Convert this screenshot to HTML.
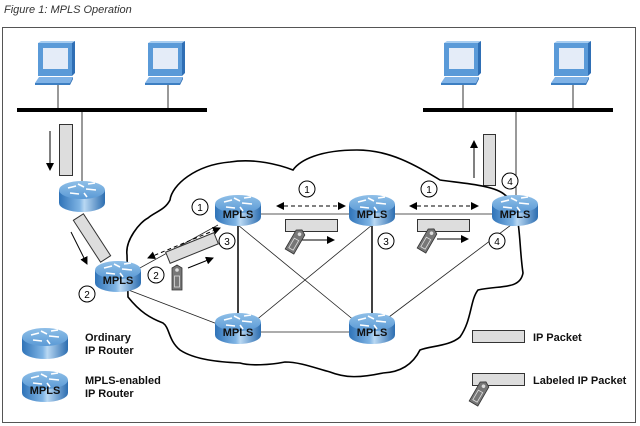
<!DOCTYPE html>
<html><head><meta charset="utf-8"><style>
body{margin:0;background:#fff}
svg{display:block}
text{font-family:"Liberation Sans",Arial,sans-serif}
.m{font-weight:bold;font-size:11px;fill:#111;text-anchor:middle}
.n{font-size:10px;fill:#000;text-anchor:middle}
.l{font-weight:bold;font-size:11px;fill:#111}
</style></head><body>
<svg width="640" height="426" viewBox="0 0 640 426" xmlns="http://www.w3.org/2000/svg">
<defs>
<linearGradient id="body" x1="0" x2="1" y1="0" y2="0">
<stop offset="0" stop-color="#2f73b8"/><stop offset="0.45" stop-color="#7fb4e4"/><stop offset="0.55" stop-color="#b9d8f3"/><stop offset="1" stop-color="#2c6db0"/>
</linearGradient>
<linearGradient id="top" x1="0" x2="0" y1="0" y2="1">
<stop offset="0" stop-color="#8fbfe8"/><stop offset="1" stop-color="#5b9ad6"/>
</linearGradient>
<g id="rt">
<path d="M-23,0 L-23,13 A23,9 0 0 0 23,13 L23,0 Z" fill="url(#body)"/>
<ellipse cx="0" cy="0" rx="23" ry="9" fill="url(#top)"/>
<path d="M-14,-2 l8,-2 M-4,-6 l6,3 M4,-1 l10,1 M-12,3 l9,1 M2,3 l3,4 M6,-6 l7,-1" stroke="#fff" stroke-width="1.6" fill="none"/>
</g>
<g id="mp"><use href="#rt"/><text class="m" x="0" y="14">MPLS</text></g>
<g id="tag">
<path d="M-5,-11 L0,-14 L5,-11 L5,11 L-5,11 Z" fill="#777" stroke="#333" stroke-width="0.8"/>
<circle cx="0" cy="-9" r="1.8" fill="#ddd"/>
<rect x="-2.5" y="-3" width="5" height="11" fill="none" stroke="#ddd" stroke-width="0.8"/>
</g>
<marker id="ah" markerWidth="8" markerHeight="8" refX="7" refY="4" orient="auto" markerUnits="userSpaceOnUse"><path d="M0,0 L8,4 L0,8 Z" fill="#000"/></marker>
<marker id="as" markerWidth="8" markerHeight="8" refX="1" refY="4" orient="auto" markerUnits="userSpaceOnUse"><path d="M8,0 L0,4 L8,8 Z" fill="#000"/></marker>
<g id="pc">
<path d="M3,0 L6,-2 L40,-2 L37,0 Z" fill="#a8cdf0"/>
<path d="M37,0 L40,-2 L40,30 L37,33 Z" fill="#2f6fb5"/>
<rect x="3" y="0" width="34" height="33" fill="#5a9ad8"/>
<rect x="8" y="5" width="25" height="21" fill="#e4ecf8"/>
<path d="M4,34 L38,34 L35,40 L0,40 Z" fill="#7fb2e6"/>
<path d="M0,40 L35,40 L35,42 L0,42 Z" fill="#3d7fc2"/>
<path d="M35,40 L38,34 L38,36 L35,42 Z" fill="#2f6fb5"/>
</g>
</defs>
<text x="4" y="13" font-size="11" font-style="italic" fill="#333">Figure 1: MPLS Operation</text>
<rect x="2.5" y="27.5" width="633" height="395" fill="none" stroke="#555" stroke-width="1"/>

<!-- hosts -->
<g transform="translate(35,43)"><use href="#pc"/></g>
<g transform="translate(145,43)"><use href="#pc"/></g>
<g transform="translate(441,43)"><use href="#pc"/></g>
<g transform="translate(551,43)"><use href="#pc"/></g>
<g stroke="#333" stroke-width="1">
<line x1="58" y1="85" x2="58" y2="110"/><line x1="168" y1="85" x2="168" y2="110"/><line x1="82" y1="110" x2="82" y2="185"/>
<line x1="463" y1="85" x2="463" y2="110"/><line x1="573" y1="85" x2="573" y2="110"/><line x1="516" y1="110" x2="516" y2="200"/>
</g>
<rect x="17" y="108" width="190" height="4" fill="#000"/>
<rect x="423" y="108" width="190" height="4" fill="#000"/>
<rect x="59.5" y="124.5" width="13" height="51" fill="#ddd" stroke="#333"/>
<line x1="50" y1="131" x2="50" y2="170" stroke="#000" marker-end="url(#ah)"/>
<rect x="483.5" y="134.5" width="12" height="51" fill="#ddd" stroke="#333"/>
<line x1="474" y1="178" x2="474" y2="141" stroke="#000" marker-end="url(#ah)"/>

<!-- cloud -->
<path d="M170,200 C172,185 195,165 230,162 C255,158 280,165 293,170 C300,160 320,150 357,150 C390,150 415,165 440,180 C460,183 495,185 505,195 C522,205 518,240 523,273 C520,290 500,285 478,290 C470,300 472,320 460,337 C450,346 430,346 420,350 C415,360 405,372 383,373 C360,378 345,378 330,372 C315,368 300,362 285,362 C270,365 250,366 240,363 C220,362 195,360 180,350 C168,340 170,328 163,323 C150,318 140,312 128,297 L127,255 C125,240 140,222 148,218 C155,212 165,210 170,200 Z" fill="#fff" stroke="#000" stroke-width="1.6"/>

<!-- links -->
<g stroke="#222" stroke-width="0.8" fill="none">
<line x1="238" y1="214" x2="372" y2="214"/><line x1="372" y1="214" x2="515" y2="214"/>
<line x1="238" y1="332" x2="372" y2="332"/>
<line x1="238" y1="225" x2="372" y2="335"/><line x1="372" y1="225" x2="238" y2="335"/>
<line x1="515" y1="222" x2="385" y2="320"/>
<line x1="118" y1="280" x2="218" y2="225"/><line x1="118" y1="286" x2="220" y2="325"/>
</g>
<g stroke="#111" stroke-width="1.6"><line x1="238" y1="222" x2="238" y2="325"/><line x1="372" y1="222" x2="372" y2="325"/></g>

<!-- arrows dashed -->
<g stroke="#000" stroke-width="1" stroke-dasharray="4,3">
<line x1="277" y1="206" x2="345" y2="206" marker-end="url(#ah)" marker-start="url(#as)"/>
<line x1="410" y1="206" x2="478" y2="206" marker-end="url(#ah)" marker-start="url(#as)"/>
<line x1="148" y1="258" x2="220" y2="228" marker-end="url(#ah)" marker-start="url(#as)"/>
</g>
<g stroke="#000" stroke-width="1">
<line x1="302" y1="240" x2="334" y2="240" marker-end="url(#ah)"/>
<line x1="437" y1="239" x2="468" y2="239" marker-end="url(#ah)"/>
<line x1="188" y1="268" x2="213" y2="258" marker-end="url(#ah)"/>
<line x1="71" y1="232" x2="87" y2="264" marker-end="url(#ah)"/>
</g>

<!-- packets -->
<rect x="285.5" y="219.5" width="52" height="12" fill="#ddd" stroke="#333"/>
<rect x="417.5" y="219.5" width="52" height="12" fill="#ddd" stroke="#333"/>
<rect x="-26" y="-6" width="52" height="12" fill="#ddd" stroke="#333" transform="translate(192,248) rotate(-22)"/>
<rect x="-25" y="-6" width="50" height="12" fill="#ddd" stroke="#333" transform="translate(92,238) rotate(57)"/>
<g transform="translate(295,242) rotate(30)"><use href="#tag"/></g>
<g transform="translate(427,241) rotate(30)"><use href="#tag"/></g>
<g transform="translate(177,279)"><use href="#tag"/></g>

<!-- routers -->
<g transform="translate(82,190)"><use href="#rt"/></g>
<g transform="translate(238,204)"><use href="#mp"/></g>
<g transform="translate(372,204)"><use href="#mp"/></g>
<g transform="translate(515,204)"><use href="#mp"/></g>
<g transform="translate(118,270)"><use href="#mp"/></g>
<g transform="translate(238,322)"><use href="#mp"/></g>
<g transform="translate(372,322)"><use href="#mp"/></g>

<!-- numbered circles -->
<g fill="#fff" stroke="#000" stroke-width="1">
<circle cx="200" cy="207" r="8"/><circle cx="307" cy="189" r="8"/><circle cx="429" cy="189" r="8"/>
<circle cx="87" cy="294" r="8"/><circle cx="156" cy="275" r="8"/>
<circle cx="227" cy="241" r="8"/><circle cx="386" cy="241" r="8"/>
<circle cx="510" cy="181" r="8"/><circle cx="497" cy="241" r="8"/>
</g>
<g class="n">
<text x="200" y="211">1</text><text x="307" y="193">1</text><text x="429" y="193">1</text>
<text x="87" y="298">2</text><text x="156" y="279">2</text>
<text x="227" y="245">3</text><text x="386" y="245">3</text>
<text x="510" y="185">4</text><text x="497" y="245">4</text>
</g>

<!-- legend -->
<g transform="translate(45,337)"><use href="#rt"/></g>
<text class="l" x="85" y="341">Ordinary</text><text class="l" x="85" y="354">IP Router</text>
<g transform="translate(45,380)"><use href="#mp"/></g>
<text class="l" x="85" y="384">MPLS-enabled</text><text class="l" x="85" y="397">IP Router</text>
<rect x="472.5" y="330.5" width="52" height="12" fill="#ddd" stroke="#333"/>
<text class="l" x="533" y="341">IP Packet</text>
<rect x="472.5" y="373.5" width="52" height="12" fill="#ddd" stroke="#333"/>
<text class="l" x="533" y="384">Labeled IP Packet</text>
<g transform="translate(479,394) rotate(30)"><use href="#tag"/></g>
</svg>
</body></html>
